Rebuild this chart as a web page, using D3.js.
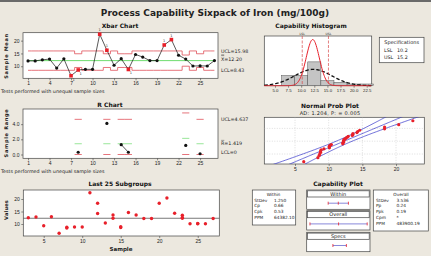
<!DOCTYPE html>
<html>
<head>
<meta charset="utf-8">
<script src="https://d3js.org/d3.v7.min.js"></script>
<style>
  body { margin:0; background:#ece8df; }
  svg { display:block; font-family:"DejaVu Sans", sans-serif; }
  .axis text { font-size:5px; fill:#222; }
  .axis line { stroke:#444; stroke-width:0.6; }
  .axis path { display:none; }
  .ptitle { font-size:6px; font-weight:bold; fill:#111; }
  .small { font-size:4.8px; fill:#222; }
</style>
</head>
<body>
<script>
// ---- data ----
var sampleIds = d3.range(1, 28);
// raw observations of each subgroup (sample 1..27)
var subgroups = [
  [12.1], [12.1], [12.5], [12.8], [9.3], [12.9], [6.3], [8.4, 8.7], [8.8], [8.8],
  [22.5], [18.3, 14.2], [10.4], [13.6, 12.3], [8.6, 8.9], [14.6], [13.6], [12.2], [12.2], [18.3],
  [20.4], [14.3], [13.5, 12.3, 12.6], [10.1], [10.1, 10.2], [10.1], [12.2]
];
var xbarTicks = [1, 4, 7, 10, 13, 16, 19, 22, 25];
var last25Ticks = [5, 10, 15, 20, 25];
var xbarUCL = 15.98, xbarCL = 12.20, xbarLCL = 8.43;
var rBar = 1.419, rUCL = 4.637;
var d2 = {2: 1.128, 3: 1.693}, d3c = {2: 0.853, 3: 0.888};

var histCenters = [5.0, 7.5, 10.0, 12.5, 15.0, 17.5, 20.0, 22.5];
var histCounts  = [0, 6, 6, 14, 3, 2, 1, 1];
var LSL = 10.2, USL = 15.2;
var stdWithin = 1.250, stdOverall = 3.536;
var adText = "AD: 1.204, P: = 0.005";
var withinLabels = ["StDev", "Cp", "Cpk", "PPM"];
var withinValues = ["1.250", "0.66", "0.53", "64382.10"];
var overallLabels = ["StDev", "Pp", "Ppk", "Cpm", "PPM"];
var overallValues = ["3.536", "0.24", "0.19", "*", "483900.19"];

// ---- derived ----
var sizes = subgroups.map(function(g) { return g.length; });
var means = subgroups.map(function(g) { return d3.mean(g); });
var ranges = subgroups.map(function(g) { return g.length > 1 ? d3.max(g) - d3.min(g) : null; });
var sigmaX = (xbarUCL - xbarCL) / 3;
var sigmaR = rBar / d2[2];
var allObs = [].concat.apply([], subgroups);
var obsMean = d3.mean(allObs);

var W = 431, H = 256;
var svg = d3.select("body").append("svg").attr("width", W).attr("height", H);
svg.append("rect").attr("width", W).attr("height", H).attr("fill", "#ece8df");
svg.append("rect").attr("width", W).attr("height", 2).attr("fill", "#6a6a6a");

function label(x, y, s, cls, anchor) {
  return svg.append("text").attr("x", x).attr("y", y).attr("dy", "0.35em")
    .attr("class", cls || "small").attr("text-anchor", anchor || "start").text(s);
}
function frame(x0, y0, x1, y1, fill) {
  return svg.append("rect").attr("x", x0).attr("y", y0).attr("width", x1 - x0).attr("height", y1 - y0)
    .attr("fill", fill || "#fff").attr("stroke", "#444").attr("stroke-width", 0.7);
}
function bar(x0, x1, y) {
  svg.append("line").attr("x1", x0).attr("x2", x1).attr("y1", y).attr("y2", y)
    .attr("stroke", "#222").attr("stroke-width", 0.4);
}
function yTitle(x, y, s, spacing) {
  svg.append("text").attr("transform", "translate(" + x + "," + y + ") rotate(-90)")
    .attr("text-anchor", "middle").attr("dy", "0.35em")
    .style("font-size", "5px").style("font-weight", "bold").style("letter-spacing", spacing + "px")
    .attr("fill", "#222").text(s);
}

label(215, 13, "Process Capability Sixpack of Iron (mg/100g)", "", "middle")
  .style("font-size", "9px").style("font-weight", "bold").attr("fill", "#111");

// ================= Xbar chart =================
var xX = d3.scaleLinear().domain([0.3, 27.5]).range([23, 218]);
var yX = d3.scaleLinear().domain([5.3, 23.1]).range([78.3, 32.7]);
label(120, 26, "Xbar Chart", "ptitle", "middle");
frame(23, 32.7, 218, 78.3);
svg.append("g").attr("class", "axis").attr("transform", "translate(0,78.3)")
  .call(d3.axisBottom(xX).tickValues(xbarTicks).tickSize(2).tickPadding(1.5));
svg.append("g").attr("class", "axis").attr("transform", "translate(23,0)")
  .call(d3.axisLeft(yX).tickValues([10, 15, 20]).tickSize(2).tickPadding(1.5));
yTitle(6, 56, "Sample Mean", 0.7);

var stepLine = d3.line().curve(d3.curveStep).x(function(d) { return xX(d[0]); }).y(function(d) { return yX(d[1]); });
var uclX = sampleIds.map(function(s, i) { return [s, xbarCL + 3 * sigmaX / Math.sqrt(sizes[i])]; });
var lclX = sampleIds.map(function(s, i) { return [s, xbarCL - 3 * sigmaX / Math.sqrt(sizes[i])]; });
svg.append("path").attr("d", stepLine(uclX)).attr("fill", "none").attr("stroke", "#e0505a").attr("stroke-width", 0.8);
svg.append("path").attr("d", stepLine(lclX)).attr("fill", "none").attr("stroke", "#e0505a").attr("stroke-width", 0.8);
svg.append("line").attr("x1", xX(1)).attr("x2", xX(27)).attr("y1", yX(xbarCL)).attr("y2", yX(xbarCL))
  .attr("stroke", "#5fd85f").attr("stroke-width", 0.9);

var xbarPts = sampleIds.map(function(s, i) {
  return { s: s, v: means[i], out: means[i] > uclX[i][1] || means[i] < lclX[i][1] };
});
svg.append("path").datum(xbarPts)
  .attr("d", d3.line().x(function(d) { return xX(d.s); }).y(function(d) { return yX(d.v); }))
  .attr("fill", "none").attr("stroke", "#111").attr("stroke-width", 0.7);
svg.selectAll(".xb").data(xbarPts.filter(function(d) { return !d.out; })).enter().append("circle")
  .attr("cx", function(d) { return xX(d.s); }).attr("cy", function(d) { return yX(d.v); })
  .attr("r", 1.6).attr("fill", "#111");
svg.selectAll(".xbo").data(xbarPts.filter(function(d) { return d.out; })).enter().append("rect")
  .attr("x", function(d) { return xX(d.s) - 1.8; }).attr("y", function(d) { return yX(d.v) - 1.8; })
  .attr("width", 3.6).attr("height", 3.6).attr("fill", "#e8202a");
svg.selectAll(".xbl").data(xbarPts.filter(function(d) { return d.out; })).enter().append("text")
  .attr("x", function(d) { return xX(d.s) + (d.v < xbarCL ? 2.5 : 0); })
  .attr("y", function(d) { return yX(d.v) + (d.v < xbarCL ? 5 : -3); })
  .attr("text-anchor", "middle").style("font-size", "3.5px").attr("fill", "#333").text("1");
label(221, yX(xbarUCL), "UCL=" + xbarUCL.toFixed(2));
label(221, yX(xbarCL) - 1.5, "X=" + xbarCL.toFixed(2));
bar(221.2, 224.2, yX(xbarCL) - 5);
bar(221.2, 224.2, yX(xbarCL) - 5.8);
label(221, yX(xbarLCL), "LCL=" + xbarLCL.toFixed(2));
label(1, 91.5, "Tests performed with unequal sample sizes");

// ================= R chart =================
var yR = d3.scaleLinear().domain([-0.5, 6.0]).range([158.3, 109]);
label(110, 105, "R Chart", "ptitle", "middle");
frame(23, 109, 218, 158.3);
svg.append("g").attr("class", "axis").attr("transform", "translate(0,158.3)")
  .call(d3.axisBottom(xX).tickValues(xbarTicks).tickSize(2).tickPadding(1.5));
svg.append("g").attr("class", "axis").attr("transform", "translate(23,0)")
  .call(d3.axisLeft(yR).tickValues([0, 2, 4]).tickSize(2).tickPadding(1.5));
yTitle(6, 133, "Sample Range", 0.7);

var rGroups = sampleIds.map(function(s, i) { return { s: s, n: sizes[i], r: ranges[i] }; })
  .filter(function(d) { return d.n > 1; });
rGroups.forEach(function(d) {
  var cl = d2[d.n] * sigmaR, ucl = (d2[d.n] + 3 * d3c[d.n]) * sigmaR;
  [[ucl, "#e0505a"], [cl, "#7fe07f"], [0, "#e0505a"]].forEach(function(l) {
    svg.append("line").attr("x1", xX(d.s - 0.5)).attr("x2", xX(d.s + 0.5))
      .attr("y1", yR(l[0])).attr("y2", yR(l[0])).attr("stroke", l[1]).attr("stroke-width", 0.8);
  });
});
var rLine = d3.line().defined(function(d) { return d.r !== null; })
  .x(function(d) { return xX(d.s); }).y(function(d) { return yR(d.r); });
svg.append("path").datum(sampleIds.map(function(s, i) { return { s: s, r: ranges[i] }; }))
  .attr("d", rLine).attr("fill", "none").attr("stroke", "#111").attr("stroke-width", 0.7);
svg.selectAll(".rp").data(rGroups).enter().append("circle")
  .attr("cx", function(d) { return xX(d.s); }).attr("cy", function(d) { return yR(d.r); })
  .attr("r", 1.6).attr("fill", "#111");
label(221, yR(rUCL), "UCL=" + rUCL.toFixed(3));
label(221, yR(rBar), "R=" + rBar.toFixed(3));
bar(221.2, 224.3, yR(rBar) - 3.4);
label(221, yR(0) - 2, "LCL=0");
label(1, 171, "Tests performed with unequal sample sizes");

// ================= Last 25 subgroups =================
var xL = d3.scaleLinear().domain([2.35, 27.8]).range([23.3, 219.3]);
var yL = d3.scaleLinear().domain([5.2, 23.6]).range([236, 190]);
label(120, 184, "Last 25 Subgroups", "ptitle", "middle");
frame(23.3, 190, 219.3, 236);
svg.append("g").attr("class", "axis").attr("transform", "translate(0,236)")
  .call(d3.axisBottom(xL).tickValues(last25Ticks).tickSize(2).tickPadding(1.5));
svg.append("g").attr("class", "axis").attr("transform", "translate(23.3,0)")
  .call(d3.axisLeft(yL).tickValues([10, 15, 20]).tickSize(2).tickPadding(1.5));
yTitle(6, 210, "Values", 0.2);
label(121, 249, "Sample", "", "middle").style("font-size", "5.5px").style("font-weight", "bold").attr("fill", "#222");
svg.append("line").attr("x1", 23.3).attr("x2", 219.3).attr("y1", yL(obsMean)).attr("y2", yL(obsMean))
  .attr("stroke", "#555").attr("stroke-width", 0.8);
var lastPts = [];
sampleIds.forEach(function(s, i) {
  if (s >= 3) subgroups[i].forEach(function(v) { lastPts.push({ s: s, v: v }); });
});
svg.selectAll(".lp").data(lastPts).enter().append("circle")
  .attr("cx", function(d) { return xL(d.s); }).attr("cy", function(d) { return yL(d.v); })
  .attr("r", 1.7).attr("fill", "#e8202a");

// ================= Capability histogram =================
var xH = d3.scaleLinear().domain([2.96, 23.45]).range([264.3, 371.7]);
var yH = d3.scaleLinear().domain([0, 29.2]).range([85.7, 36]);
label(311, 26, "Capability Histogram", "ptitle", "middle");
frame(264.3, 36, 371.7, 85.7);
svg.selectAll(".hb").data(histCenters).enter().append("rect")
  .attr("x", function(c) { return xH(c - 1.25); }).attr("width", function(c) { return xH(c + 1.25) - xH(c - 1.25); })
  .attr("y", function(c, i) { return yH(histCounts[i]); })
  .attr("height", function(c, i) { return yH(0) - yH(histCounts[i]); })
  .attr("fill", "#c4c4c4").attr("stroke", "#555").attr("stroke-width", 0.5);
svg.append("g").attr("class", "axis").attr("transform", "translate(0,85.7)")
  .call(d3.axisBottom(xH).tickValues(histCenters).tickFormat(d3.format(".1f")).tickSize(2).tickPadding(1.5))
  .selectAll("text").style("font-size", "4.3px");
var nObs = allObs.length, bw = 2.5;
function dens(x, m, s) { return nObs * bw * Math.exp(-0.5 * Math.pow((x - m) / s, 2)) / (s * Math.sqrt(2 * Math.PI)); }
var xs = d3.range(2.96, 23.45, 0.1);
var curve = d3.line().x(function(d) { return xH(d[0]); }).y(function(d) { return yH(d[1]); });
svg.append("path").attr("d", curve(xs.map(function(x) { return [x, dens(x, obsMean, stdOverall)]; })))
  .attr("fill", "none").attr("stroke", "#111").attr("stroke-width", 1.3).attr("stroke-dasharray", "3.5,2");
svg.append("path").attr("d", curve(xs.map(function(x) { return [x, dens(x, xbarCL, stdWithin)]; })))
  .attr("fill", "none").attr("stroke", "#e8202a").attr("stroke-width", 1);
[[LSL, "LSL"], [USL, "USL"]].forEach(function(d) {
  svg.append("line").attr("x1", xH(d[0])).attr("x2", xH(d[0])).attr("y1", 36).attr("y2", 85.7)
    .attr("stroke", "#d84a4a").attr("stroke-width", 0.7).attr("stroke-dasharray", "3,1.5");
  label(xH(d[0]), 33.5, d[1], "", "middle").style("font-size", "3px").attr("fill", "#d84a4a");
});
frame(379.3, 37.3, 424, 62.7);
label(401.7, 42.5, "Specifications", "", "middle").style("font-size", "5px").attr("fill", "#222");
label(384, 50.2, "LSL"); label(397, 50.2, LSL.toFixed(1));
label(384, 57.7, "USL"); label(397, 57.7, USL.toFixed(1));

// ================= Normal probability plot =================
function qnorm(p) {
  var a = [-39.69683028665376, 220.9460984245205, -275.9285104469687, 138.3577518672690, -30.66479806614716, 2.506628277459239];
  var b = [-54.47609879822406, 161.5858368580409, -155.6989798598866, 66.80131188771972, -13.28068155288572];
  var c = [-0.007784894002430293, -0.3223964580411365, -2.400758277161838, -2.549732539343734, 4.374664141464968, 2.938163982698783];
  var d = [0.007784695709041462, 0.3224671290700398, 2.445134137142996, 3.754408661907416];
  var q, r;
  if (p < 0.02425) {
    q = Math.sqrt(-2 * Math.log(p));
    return (((((c[0]*q+c[1])*q+c[2])*q+c[3])*q+c[4])*q+c[5]) / ((((d[0]*q+d[1])*q+d[2])*q+d[3])*q+1);
  }
  if (p > 1 - 0.02425) return -qnorm(1 - p);
  q = p - 0.5; r = q * q;
  return (((((a[0]*r+a[1])*r+a[2])*r+a[3])*r+a[4])*r+a[5])*q / (((((b[0]*r+b[1])*r+b[2])*r+b[3])*r+b[4])*r+1);
}
var xN = d3.scaleLinear().domain([0.44, 24.2]).range([264.3, 424.3]);
var yN = d3.scaleLinear().domain([-2.28, 2.39]).range([164, 117.3]);
label(330, 105.5, "Normal Prob Plot", "ptitle", "middle");
label(330, 113.3, adText, "", "middle").style("font-size", "5px").style("letter-spacing", "0.3px").attr("fill", "#222");
frame(264.3, 117.3, 424.3, 164);
svg.append("clipPath").attr("id", "npclip").append("rect")
  .attr("x", 264.3).attr("y", 117.3).attr("width", 160).attr("height", 46.7);
var np = svg.append("g").attr("clip-path", "url(#npclip)");
[5, 10, 15, 20].forEach(function(t) {
  np.append("line").attr("x1", xN(t)).attr("x2", xN(t)).attr("y1", 117.3).attr("y2", 164)
    .attr("stroke", "#bbb").attr("stroke-width", 0.5).attr("stroke-dasharray", "1,1.5");
});
[0.1, 0.5, 0.9].forEach(function(p) {
  np.append("line").attr("x1", 264.3).attr("x2", 424.3).attr("y1", yN(qnorm(p))).attr("y2", yN(qnorm(p)))
    .attr("stroke", "#bbb").attr("stroke-width", 0.5).attr("stroke-dasharray", "1,1.5");
});
var zs = d3.range(-2.6, 2.7, 0.05);
var nLine = d3.line().x(function(d) { return xN(d[0]); }).y(function(d) { return yN(d[1]); });
[-1, 0, 1].forEach(function(k) {
  np.append("path").attr("d", nLine(zs.map(function(z) {
    var half = 1.96 * stdOverall * Math.sqrt(1 / nObs + z * z / (2 * (nObs - 1)));
    return [obsMean + stdOverall * z + k * half, z];
  }))).attr("fill", "none").attr("stroke", "#3030c8").attr("stroke-width", 0.7);
});
var sorted = allObs.slice().sort(d3.ascending);
np.selectAll(".npp").data(sorted).enter().append("circle")
  .attr("cx", function(v) { return xN(v); })
  .attr("cy", function(v, i) { return yN(qnorm((i + 1 - 0.3) / (nObs + 0.4))); })
  .attr("r", 1.6).attr("fill", "#e8202a");
svg.append("g").attr("class", "axis").attr("transform", "translate(0,164)")
  .call(d3.axisBottom(xN).tickValues([5, 10, 15, 20]).tickSize(2).tickPadding(1.5));

// ================= Capability plot =================
label(338, 184, "Capability Plot", "ptitle", "middle");
var xC = d3.scaleLinear().domain([0, 24.4]).range([305.4, 371.2]);
frame(252.3, 190, 295.7, 225);
label(273.5, 194.3, "Within", "", "middle").style("font-size", "4.3px");
withinLabels.forEach(function(l, i) {
  label(254.3, 200 + i * 5.8, l).style("font-size", "4.3px");
  label(274, 200 + i * 5.8, withinValues[i]).style("font-size", "4.3px");
});
frame(373.3, 190, 428.3, 231);
label(401, 194.3, "Overall", "", "middle").style("font-size", "4.3px");
overallLabels.forEach(function(l, i) {
  label(376, 200 + i * 5.8, l).style("font-size", "4.3px");
  label(396.5, 200 + i * 5.8, overallValues[i]).style("font-size", "4.3px");
});
var capRows = [
  { name: "Within", lo: xbarCL - 3 * stdWithin, mid: xbarCL, hi: xbarCL + 3 * stdWithin, y0: 190, y1: 209.3 },
  { name: "Overall", lo: obsMean - 3 * stdOverall, mid: obsMean, hi: obsMean + 3 * stdOverall, y0: 210.7, y1: 230 },
  { name: "Specs", lo: LSL, mid: null, hi: USL, y0: 232.3, y1: 251.7 }
];
capRows.forEach(function(r) {
  frame(306.7, r.y0, 370, r.y1);
  frame(307.5, r.y0 + 0.8, 369.2, r.y0 + 7);
  label(338.3, r.y0 + 3.9, r.name, "", "middle").style("font-size", "5px").attr("fill", "#222");
  var yy = r.y0 + 13.2;
  svg.append("line").attr("x1", xC(r.lo)).attr("x2", xC(r.hi)).attr("y1", yy).attr("y2", yy)
    .attr("stroke", "#6a6ad0").attr("stroke-width", 0.8);
  [r.lo, r.mid, r.hi].filter(function(v) { return v !== null; }).forEach(function(v) {
    svg.append("line").attr("x1", xC(v)).attr("x2", xC(v)).attr("y1", yy - 1.5).attr("y2", yy + 1.5)
      .attr("stroke", "#e8202a").attr("stroke-width", 0.8);
  });
});
</script>
</body>
</html>
